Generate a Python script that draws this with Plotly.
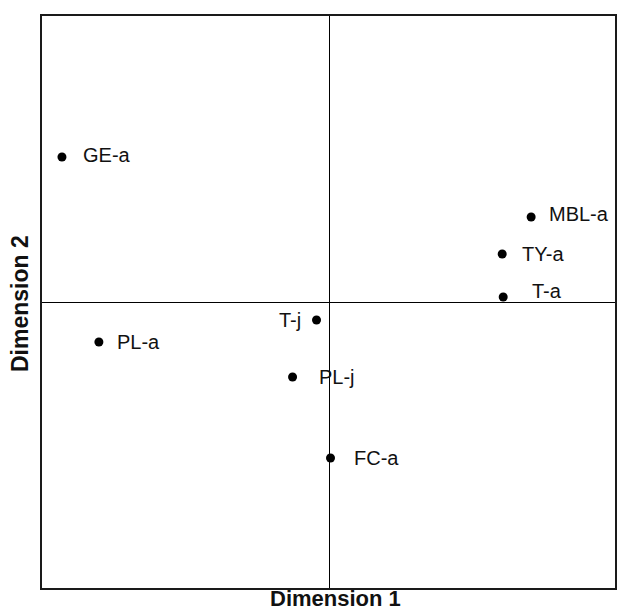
import plotly.graph_objects as go

labels = ["GE-a", "MBL-a", "TY-a", "T-a", "T-j", "PL-j", "PL-a", "FC-a"]
dim1 = [-2.68, 2.02, 1.73, 1.74, -0.13, -0.37, -2.31, 0.01]
dim2 = [1.45, 0.85, 0.48, 0.05, -0.18, -0.75, -0.40, -1.56]

# label placement styling (pixel offsets from the point)
label_side = {"T-j": "right"}
label_dx = {"GE-a": 19, "MBL-a": 16, "TY-a": 18, "T-a": 27, "T-j": -14,
            "PL-j": 24, "PL-a": 16, "FC-a": 21}
label_dy = {"MBL-a": 3, "T-a": 6, "GE-a": 2}

FONT = "Liberation Sans, Arial, sans-serif"

fig = go.Figure()
fig.add_trace(go.Scatter(
    x=dim1, y=dim2, mode="markers",
    marker=dict(color="black", size=9),
    hovertext=labels, showlegend=False,
))

for lab, x, y in zip(labels, dim1, dim2):
    side = label_side.get(lab, "left")
    fig.add_annotation(
        x=x, y=y, xref="x", yref="y", text=lab, showarrow=False,
        xanchor=side, yanchor="middle",
        xshift=label_dx.get(lab, 16), yshift=label_dy.get(lab, 0),
        font=dict(family=FONT, size=20, color="#111"),
    )

fig.add_annotation(
    x=0.512, y=0, xref="paper", yref="paper", yanchor="top", yshift=4,
    text="<b>Dimension 1</b>", showarrow=False,
    font=dict(family=FONT, size=22, color="#111"),
)
fig.add_annotation(
    x=0, y=0.5, xref="paper", yref="paper", xanchor="right", xshift=-7, yshift=-2,
    text="<b>Dimension 2</b>", showarrow=False, textangle=-90,
    font=dict(family=FONT, size=23, color="#111"),
)

axis_common = dict(
    showgrid=False, showticklabels=False, ticks="",
    zeroline=True, zerolinecolor="black", zerolinewidth=1,
    showline=True, mirror=True, linecolor="#1a1a1a", linewidth=2,
)
fig.update_xaxes(range=[-2.88, 2.86], **axis_common)
fig.update_yaxes(range=[-2.86, 2.86], **axis_common)

fig.update_layout(
    width=617, height=610,
    margin=dict(l=42, r=0, t=16, b=22),
    plot_bgcolor="white", paper_bgcolor="white",
    font=dict(family=FONT),
)

fig.write_html(
    "out.html",
    config={"displayModeBar": False},
    post_script="document.body.style.margin='0';document.body.style.overflow='hidden';",
)
